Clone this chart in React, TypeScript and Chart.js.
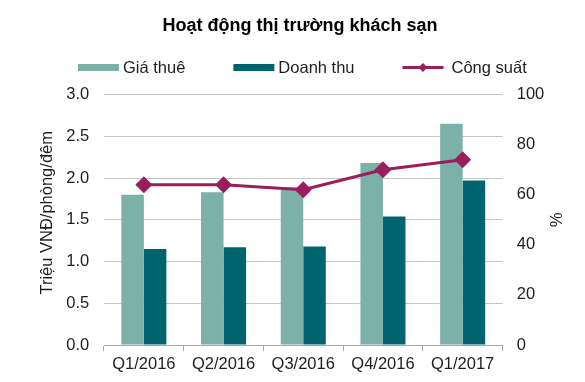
import React, { useEffect, useRef } from "react";
import { Chart, registerables } from "chart.js";

Chart.register(...registerables);

const FONT = '"Liberation Sans", Arial, sans-serif';
const FS = 16.5;

const chartTitle = "Hoạt động thị trường khách sạn";
const categories = ["Q1/2016", "Q2/2016", "Q3/2016", "Q4/2016", "Q1/2017"];
const seriesNames = ["Giá thuê", "Doanh thu", "Công suất"];
const giaThue = [1.8, 1.83, 1.89, 2.18, 2.65];
const doanhThu = [1.15, 1.17, 1.18, 1.54, 1.97];
const congSuat = [64, 64, 62, 70, 74];
const leftAxisTitle = "Triệu VNĐ/phòng/đêm";
const rightAxisTitle = "%";
const leftRange = [0, 3, 0.5];
const rightRange = [0, 100, 20];

const colors = {
  gia: "#7bb1a8",
  doanh: "#00646e",
  cong: "#9b1d5c",
  grid: "#c4c4c4",
  axis: "#a8a8a8",
  text: "#1e1e1e",
};

const legendPlugin = {
  id: "customLegend",
  afterDraw(chart: any) {
    const ctx = chart.ctx as CanvasRenderingContext2D;
    ctx.save();
    ctx.font = `${FS}px ${FONT}`;
    ctx.textBaseline = "middle";
    ctx.textAlign = "left";
    let x = 78;
    const y = 67.5;
    const boxW = 41;
    chart.data.datasets.forEach((ds: any) => {
      let gap = 4;
      if (ds.type === "line") {
        ctx.strokeStyle = ds.borderColor;
        ctx.lineWidth = 3;
        ctx.beginPath();
        ctx.moveTo(x, y);
        ctx.lineTo(x + boxW, y);
        ctx.stroke();
        const r = 4.5;
        const cx = x + boxW / 2;
        ctx.fillStyle = ds.borderColor;
        ctx.beginPath();
        ctx.moveTo(cx, y - r);
        ctx.lineTo(cx + r, y);
        ctx.lineTo(cx, y + r);
        ctx.lineTo(cx - r, y);
        ctx.closePath();
        ctx.fill();
        gap = 8;
      } else {
        ctx.fillStyle = ds.backgroundColor;
        ctx.fillRect(x, y - 3.5, boxW, 7);
      }
      ctx.fillStyle = colors.text;
      ctx.fillText(ds.label, x + boxW + gap, y + 1);
      x += boxW + gap + ctx.measureText(ds.label).width + 48;
    });
    ctx.restore();
  },
};

const leftTitlePlugin = {
  id: "leftAxisTitle",
  afterDraw(chart: any) {
    const ctx = chart.ctx as CanvasRenderingContext2D;
    const area = chart.chartArea;
    ctx.save();
    ctx.font = `${FS}px ${FONT}`;
    ctx.fillStyle = colors.text;
    ctx.textAlign = "center";
    ctx.textBaseline = "middle";
    ctx.translate(47.5, (area.top + area.bottom) / 2 - 7);
    ctx.rotate(-Math.PI / 2);
    ctx.fillText(leftAxisTitle, 0, 0);
    ctx.restore();
  },
};

export default function App() {
  const ref = useRef<HTMLCanvasElement | null>(null);

  useEffect(() => {
    document.body.style.margin = "0";
    if (!ref.current) return;
    const chart = new Chart(ref.current, {
      type: "bar",
      data: {
        labels: categories,
        datasets: [
          {
            type: "bar",
            label: seriesNames[0],
            data: giaThue,
            backgroundColor: colors.gia,
            yAxisID: "y",
            order: 1,
            categoryPercentage: 0.565,
            barPercentage: 1,
          },
          {
            type: "bar",
            label: seriesNames[1],
            data: doanhThu,
            backgroundColor: colors.doanh,
            yAxisID: "y",
            order: 1,
            categoryPercentage: 0.565,
            barPercentage: 1,
          },
          {
            type: "line",
            label: seriesNames[2],
            data: congSuat,
            borderColor: colors.cong,
            backgroundColor: colors.cong,
            borderWidth: 3,
            pointStyle: "rectRot",
            pointRadius: 8.5,
            pointBackgroundColor: colors.cong,
            pointBorderColor: colors.cong,
            pointBorderWidth: 0,
            yAxisID: "y1",
            order: 0,
            tension: 0,
          } as any,
        ],
      },
      options: {
        animation: false,
        responsive: false,
        maintainAspectRatio: false,
        layout: { padding: { left: 15, right: 0, top: 0, bottom: 0 } },
        plugins: {
          legend: { display: false },
          tooltip: { enabled: false },
          title: {
            display: true,
            text: chartTitle,
            color: "#000",
            font: { family: FONT, size: 18, weight: "bold" },
            padding: { top: 15, bottom: 58 },
          },
        },
        scales: {
          x: {
            type: "category",
            offset: true,
            grid: {
              display: true,
              drawOnChartArea: false,
              drawTicks: true,
              tickLength: 6,
              color: colors.axis,
              offset: true,
            },
            border: { display: true, color: colors.axis, width: 1 },
            ticks: {
              color: colors.text,
              font: { family: FONT, size: FS },
              padding: 4,
              maxRotation: 0,
              autoSkip: false,
            },
            afterFit(scale: any) {
              scale.height = 37;
            },
          },
          y: {
            type: "linear",
            position: "left",
            min: leftRange[0],
            max: leftRange[1],
            grid: { color: colors.grid, drawTicks: false, lineWidth: 1 },
            border: { display: false },
            ticks: {
              stepSize: leftRange[2],
              color: colors.text,
              font: { family: FONT, size: FS },
              padding: 14.7,
              callback: (v: any) => Number(v).toFixed(1),
            },
            title: { display: false },
            afterFit(scale: any) {
              scale.width = 89;
            },
          },
          y1: {
            type: "linear",
            position: "right",
            min: rightRange[0],
            max: rightRange[1],
            grid: { drawOnChartArea: false, drawTicks: false },
            border: { display: false },
            ticks: {
              stepSize: rightRange[2],
              color: colors.text,
              font: { family: FONT, size: FS },
              padding: 14.2,
              callback: (v: any) => String(Math.round(Number(v))),
            },
            title: {
              display: true,
              text: rightAxisTitle,
              color: colors.text,
              font: { family: FONT, size: FS },
              padding: { top: 20.4, bottom: 0 },
            },
            afterFit(scale: any) {
              scale.width = 82.5;
            },
          },
        },
      },
      plugins: [legendPlugin, leftTitlePlugin],
    });
    return () => chart.destroy();
  }, []);

  return (
    <div style={{ width: 585, height: 382 }}>
      <canvas ref={ref} width={585} height={382} style={{ display: "block", width: 585, height: 382 }} />
    </div>
  );
}
